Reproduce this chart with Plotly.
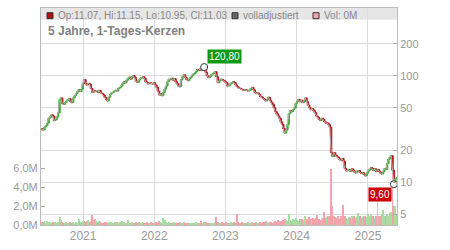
import math
import pandas as pd
import plotly.graph_objects as go

# ---------------- data (weekly) ----------------
start_date = "2020-06-03"
first_open = 31.0
closes = [
    32, 31, 33, 34, 36, 40, 41, 43, 42, 38,
    39, 41, 45, 60, 62, 55, 54, 56, 58, 60,
    61, 57, 56, 62, 65, 68, 71, 74, 71, 75,
    85, 92, 84, 82, 85, 83, 76, 70, 73, 71,
    72, 70, 73, 69, 68, 66, 63, 60, 58, 63,
    67, 69, 70, 72, 73, 72, 76, 78, 80, 84,
    88, 86, 91, 95, 97, 93, 98, 100, 96, 89,
    87, 91, 94, 96, 98, 95, 88, 86, 84, 86,
    85, 84, 86, 82, 78, 72, 66, 68, 65, 70,
    75, 80, 88, 93, 92, 95, 91, 94, 88, 84,
    80, 79, 92, 98, 102, 97, 92, 90, 94, 97,
    101, 104, 106, 110, 115, 112, 116, 112, 118, 120.8,
    108, 100, 96, 98, 102, 104, 107, 109, 98, 86,
    90, 93, 92, 90, 88, 86, 80, 81, 84, 86,
    88, 86, 82, 79, 77, 76, 75, 74, 73, 74,
    73, 72, 73, 76, 78, 74, 70, 68, 69, 67,
    64, 63, 61, 60, 58, 60, 63, 59, 56, 54,
    50, 46, 44, 42, 40, 37, 35, 32, 29, 31,
    35, 44, 47, 46, 48, 50, 55, 58, 60, 57,
    59, 56, 58, 62, 57, 53, 50, 48, 49, 47,
    45, 42, 41, 39, 38, 40, 39, 37, 36, 36,
    35, 33, 19, 17.5, 19, 18, 17.5, 17, 16.5, 16,
    16.8, 15.8, 13.5, 12.8, 13, 13.2, 12.7, 13.4, 13, 12.5,
    12.3, 12.8, 12.9, 12.4, 12.1, 12.3, 11.8, 11.5, 12.2, 12.8,
    13.2, 13.8, 13.5, 12.9, 13.4, 12.6, 13.2, 12.7, 12.3, 12.0,
    12.6, 13.4, 13.2, 15.0, 16.5, 17.2, 17.8, 13.0, 9.6, 10.8,
    11.03,
]
volumes_m = [
    0.35, 0.3, 0.4, 0.25, 0.45, 0.3, 0.35, 0.2, 0.3, 0.25,
    0.3, 0.25, 0.35, 0.85, 0.5, 0.3, 0.25, 0.2, 0.3, 0.25,
    0.2, 0.3, 0.25, 0.35, 0.2, 0.3, 0.25, 0.6, 0.3, 0.35,
    0.4, 0.45, 0.35, 0.4, 0.5, 0.3, 0.45, 1.1, 0.5, 0.6,
    0.4, 0.3, 0.45, 0.3, 0.25, 0.2, 0.35, 0.3, 0.25, 0.3,
    0.25, 0.3, 0.2, 0.25, 0.3, 0.35, 0.2, 0.3, 0.25, 0.4,
    0.3, 0.25, 0.2, 0.5, 0.3, 0.25, 0.3, 0.2, 0.25, 0.3,
    0.2, 0.3, 0.25, 0.2, 0.3, 0.25, 0.2, 0.3, 0.2, 0.25,
    0.3, 0.25, 0.2, 0.25, 0.3, 0.2, 0.4, 0.3, 0.25, 0.7,
    0.5, 0.3, 0.25, 0.3, 0.2, 0.25, 0.2, 0.3, 0.2, 0.25,
    0.2, 0.3, 0.25, 0.2, 0.3, 0.2, 0.25, 0.2, 0.2, 0.25,
    0.2, 0.25, 0.2, 0.3, 0.2, 0.25, 0.2, 0.45, 0.25, 0.3,
    0.3, 0.25, 0.2, 0.25, 0.2, 0.25, 0.2, 0.3, 0.8, 0.35,
    0.25, 0.2, 0.3, 0.25, 0.2, 0.3, 0.25, 0.2, 0.25, 0.3,
    0.25, 0.3, 0.25, 1.2, 0.3, 0.25, 0.2, 0.3, 0.25, 0.2,
    0.25, 0.3, 0.2, 0.25, 0.3, 0.2, 0.25, 0.3, 0.2, 0.25,
    0.3, 0.25, 0.35, 0.3, 0.4, 0.3, 0.25, 0.35, 0.3, 0.25,
    0.3, 0.4, 0.35, 0.5, 0.4, 0.45, 0.3, 0.5, 0.6, 0.5,
    0.4, 1.2, 0.5, 0.4, 0.6, 0.5, 0.7, 0.5, 0.4, 0.6,
    0.5, 0.6, 0.5, 1.0, 0.6, 0.5, 0.8, 0.6, 0.5, 0.7,
    0.6, 0.7, 1.1, 0.6, 0.5, 0.7, 0.6, 1.4, 0.7, 0.8,
    0.9, 1.0, 5.9, 2.0, 1.0, 0.8, 0.7, 0.9, 0.6, 1.0,
    0.8, 2.1, 1.0, 0.7, 0.6, 0.8, 0.7, 0.9, 0.6, 1.0,
    0.7, 0.8, 1.3, 0.9, 0.7, 0.8, 1.0, 0.9, 0.8, 1.2,
    0.9, 1.1, 0.8, 1.0, 0.7, 0.9, 2.5, 1.0, 0.9, 1.1,
    1.6, 1.0, 0.9, 1.2, 1.0, 1.3, 1.4, 4.6, 2.0, 2.0,
    1.2,
]
year_ticks = ["2021-01-01", "2022-01-01", "2023-01-01", "2024-01-01", "2025-01-01"]
year_labels = ["2021", "2022", "2023", "2024", "2025"]
price_ticks = [5, 10, 20, 50, 100, 200]
price_labels = ["5", "10", "20", "50", "100", "200"]
vol_ticks_m = [0, 2, 4, 6]
vol_labels = ["0,0M", "2,0M", "4,0M", "6,0M"]
title_text = "5 Jahre, 1-Tages-Kerzen"
legend_texts = ["Op:11.07, Hi:11.15, Lo:10.95, Cl:11.03", "volladjustiert", "Vol: 0M"]
high_label, low_label = "120,80", "9,60"

# ---------------- build ----------------
dates = pd.date_range(start_date, periods=len(closes), freq="7D")
opens = [first_open] + closes[:-1]
highs = [max(o, c) for o, c in zip(opens, closes)]
lows = [min(o, c) for o, c in zip(opens, closes)]
vol = [v * 1e6 for v in volumes_m]
vcol = ["#a9dc9f" if c >= o else "#f2a3ad" for o, c in zip(opens, closes)]

i_hi = max(range(len(highs)), key=lambda i: highs[i])
i_lo = min(range(len(lows)), key=lambda i: lows[i])

GREEN = "#3daa2f"
RED = "#c0141c"
FONT = "Liberation Sans, Arial, sans-serif"

fig = go.Figure()
fig.add_trace(go.Bar(x=dates, y=vol, marker=dict(color=vcol, line=dict(width=0)),
                     width=5 * 86400000, yaxis="y", showlegend=False, hoverinfo="skip"))
fig.add_trace(go.Scatter(x=dates, y=closes, mode="lines", line=dict(color="#b0b0b0", width=1),
                         yaxis="y2", showlegend=False, hoverinfo="skip"))
fig.add_trace(go.Candlestick(x=dates, open=opens, high=highs, low=lows, close=closes,
                             increasing=dict(line=dict(color=GREEN, width=1), fillcolor=GREEN),
                             decreasing=dict(line=dict(color=RED, width=1), fillcolor=RED),
                             whiskerwidth=0,
                             yaxis="y2", showlegend=False, hoverinfo="skip"))
fig.add_trace(go.Scatter(x=[dates[i_hi], dates[i_lo]], y=[highs[i_hi], lows[i_lo]], mode="markers",
                         marker=dict(symbol="circle", size=7, color="white",
                                     line=dict(color="#333333", width=1)),
                         yaxis="y2", showlegend=False, hoverinfo="skip"))

axis_gray = "#bbbbbb"
tick_font = dict(family=FONT, size=11, color="#999999")

fig.update_layout(
    width=450, height=250,
    margin=dict(l=41, r=53, t=7, b=19),
    paper_bgcolor="white", plot_bgcolor="white",
    bargap=0, boxgap=0, boxgroupgap=0,
    xaxis=dict(type="date", range=["2020-05-30", "2025-05-30"], rangeslider=dict(visible=False),
               tickvals=year_ticks, ticktext=year_labels, showgrid=True, gridcolor="#dcdcdc",
               gridwidth=1, showline=True, linecolor=axis_gray, mirror=True, ticks="",
               tickfont=dict(family=FONT, size=12, color="#999999"), zeroline=False),
    yaxis=dict(range=[0, 22.86e6], side="left", tickvals=[v * 1e6 for v in vol_ticks_m],
               ticktext=vol_labels, showgrid=False, showline=True, linecolor=axis_gray,
               ticks="inside", ticklen=4, tickcolor="#aaaaaa", tickfont=tick_font, zeroline=False),
    yaxis2=dict(type="log", range=[0.6, 2.636], side="right", overlaying="y",
                tickvals=price_ticks, ticktext=price_labels, showgrid=True, gridcolor="#dcdcdc",
                showline=True, linecolor=axis_gray, ticks="inside", ticklen=4,
                tickcolor="#aaaaaa", tickfont=tick_font, zeroline=False),
    font=dict(family=FONT),
)

# header band
fig.add_shape(type="rect", xref="paper", yref="paper", x0=0, x1=1, y0=1 - 12 / 224, y1=1,
              fillcolor="#e6e6e6", line=dict(width=0), layer="below")

sq_cols = ["#b01010", "#666666", "#f2a3ad"]
sq_x = [6, 191, 272]
txt_x = [15, 200, 281]
for col, sx, tx, t in zip(sq_cols, sq_x, txt_x, legend_texts):
    fig.add_shape(type="rect", xref="paper", yref="paper", xsizemode="pixel", ysizemode="pixel",
                  xanchor=0, yanchor=1, x0=sx, x1=sx + 6, y0=-10.7, y1=-4.7,
                  fillcolor=col, line=dict(color="#333333", width=1))
    fig.add_annotation(xref="paper", yref="paper", x=0, y=1, xanchor="left", yanchor="middle",
                       xshift=tx, yshift=-7.7, text=t, showarrow=False,
                       font=dict(family=FONT, size=10, color="#888888"))

fig.add_annotation(xref="paper", yref="paper", x=0, y=1, xanchor="left", yanchor="middle",
                   xshift=5, yshift=-22.5, text="<b>" + title_text + "</b>", showarrow=False,
                   font=dict(family=FONT, size=12, color="#808080"))

fig.add_annotation(x=dates[i_hi], y=math.log10(highs[i_hi]), xref="x", yref="y2",
                   xanchor="left", yanchor="bottom", xshift=3, yshift=3, text=high_label,
                   showarrow=False, bgcolor="#119911", borderpad=1,
                   font=dict(family=FONT, size=10, color="white"))
fig.add_annotation(x=dates[i_lo], y=math.log10(lows[i_lo]), xref="x", yref="y2",
                   xanchor="right", yanchor="top", xshift=-2, yshift=-3, text=low_label,
                   showarrow=False, bgcolor="#cc0000", borderpad=1,
                   font=dict(family=FONT, size=10, color="white"))

fig.write_html("out.html")
